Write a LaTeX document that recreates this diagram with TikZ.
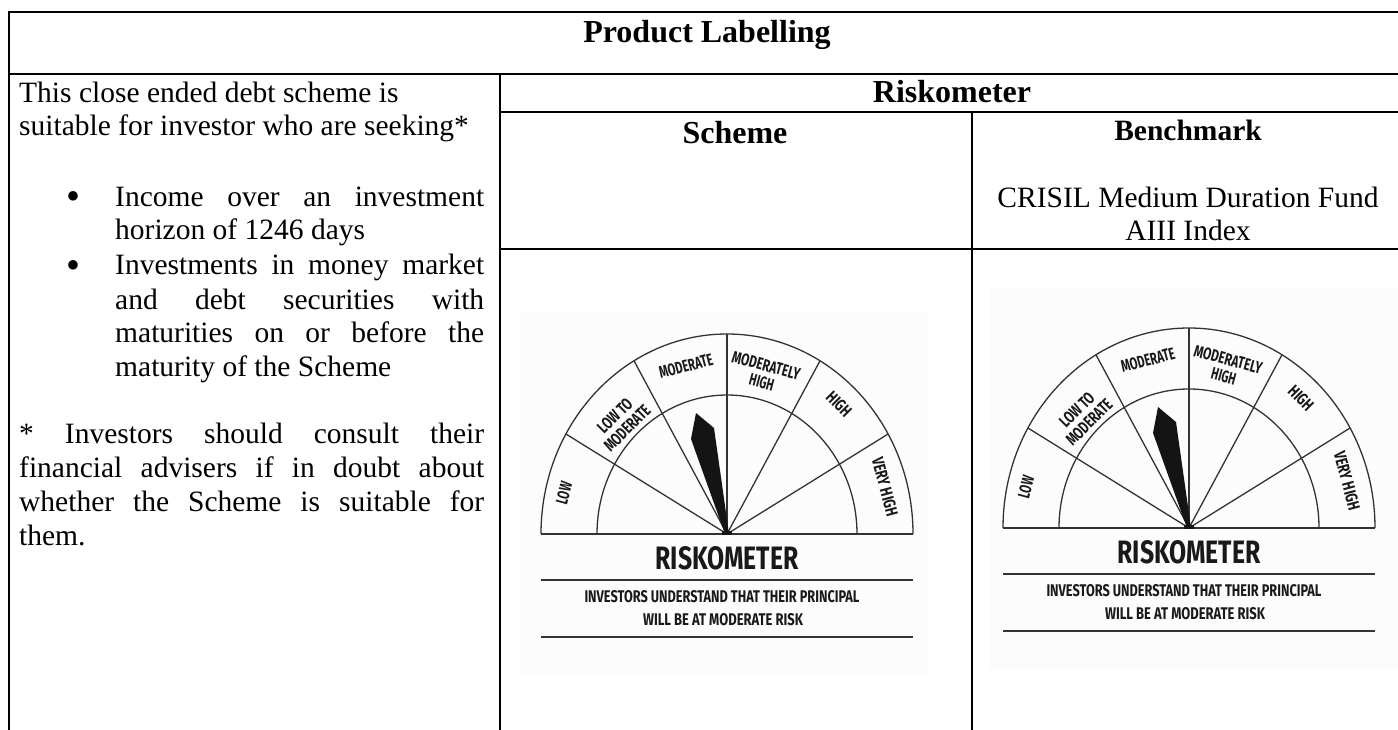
\documentclass[tikz,border=0pt]{standalone}
\usepackage{fontspec}
\usepackage{graphicx}
\setmainfont{Liberation Serif}
\newfontfamily\rkfont{Fira Sans}
\tikzset{
  rule/.style={line width=2.2pt, line cap=rect},
  hdr/.style={font=\fontsize{32}{36}\selectfont\bfseries, inner sep=0pt},
  hdrsmall/.style={font=\fontsize{29.5}{34}\selectfont\bfseries, inner sep=0pt},
  body/.style={font=\fontsize{29.5}{34}\selectfont, inner sep=0pt, anchor=base west},
  bul/.style={font=\fontsize{29.5}{34}\selectfont, inner sep=0pt, anchor=base},
  rkline/.style={draw=black!80, line width=1.3pt},
  rklab/.style={inner sep=0pt, font=\rkfont\bfseries, text=black!90, align=center},
  imgbg/.style={fill=black!1.2, draw=none}
}
\newcommand\drawriskometer[3]{%
  \begin{scope}[shift={(#1,#2)}, y=1pt]
    \draw[rkline] (-186,0) arc[start angle=180, end angle=0, x radius=186, y radius=200];
    \draw[rkline] (-130,0) arc[start angle=180, end angle=0, x radius=130, y radius=139];
    \draw[rkline] (-186,0) -- (186,0);
    \foreach \a in {30,60,90,120,150}
      \draw[rkline] (0,0) -- ({186*cos(\a)},{200*sin(\a)});
    \fill[black!92] (-2,0) -- (-36,95) -- (-31,121) -- (-13,106) -- (2,0) -- cycle;
    \fill[black!92] (-5,-1) rectangle (5,3);
    \node[rklab, rotate=75] (#3low) at (-163,41) {\resizebox{22pt}{12pt}{LOW}};
    \node[rklab, rotate=45] (#3ltm) at (-106,112) {\resizebox{42pt}{12pt}{LOW TO}\\[4pt]\resizebox{58pt}{12pt}{MODERATE}};
    \node[rklab, rotate=15] (#3mod) at (-41,168) {\resizebox{55pt}{12pt}{MODERATE}};
    \node[rklab, rotate=-15] (#3mh) at (37,160) {\resizebox{70pt}{12pt}{MODERATELY}\\[4pt]\resizebox{25pt}{12pt}{HIGH}};
    \node[rklab, rotate=-45] (#3high) at (112,130) {\resizebox{28pt}{12pt}{HIGH}};
    \node[rklab, rotate=-75] (#3vh) at (158,47) {\resizebox{60pt}{12pt}{VERY HIGH}};
    \node[rklab] (#3title) at (0,-24) {\resizebox{143pt}{23pt}{RISKOMETER}};
    \draw[rkline, line width=1.2pt] (-186,-46) -- (186,-46);
    \node[rklab] (#3inv) at (-5,-63) {\resizebox{275pt}{12pt}{INVESTORS UNDERSTAND THAT THEIR PRINCIPAL}};
    \node[rklab] (#3will) at (-4,-86) {\resizebox{160pt}{12pt}{WILL BE AT MODERATE RISK}};
    \draw[rkline, line width=1.2pt] (-186,-103) -- (186,-103);
  \end{scope}}
\begin{document}
\begin{tikzpicture}[x=1pt, y=-1pt]
  \useasboundingbox (0,0) rectangle (1398,730);
  % faint image backgrounds
  \fill[imgbg] (520,312) rectangle (927,675);
  \fill[imgbg] (990,289) rectangle (1398,670);
  % table rules
  \draw[rule] (9,12) -- (1398,12);
  \draw[rule] (9,74) -- (1398,74);
  \draw[rule] (500,112) -- (1398,112);
  \draw[rule] (500,249) -- (1398,249);
  \draw[rule] (9,12) -- (9,730);
  \draw[rule] (500,74) -- (500,730);
  \draw[rule] (972,112) -- (972,730);
  % headers
  \node[hdr, anchor=base] (title) at (707,43) {Product Labelling};
  \node[hdr, anchor=base] (risk) at (952,103) {Riskometer};
  \node[hdr, anchor=base] (scheme) at (735,144) {Scheme};
  \node[hdrsmall, anchor=base] (bench) at (1188,141) {Benchmark};
  \node[bul] (crisil) at (1188,208) {CRISIL Medium Duration Fund};
  \node[bul] (aiii) at (1188,241) {AIII Index};
  % left column text
  \node[body] (t1) at (19,103) {This close ended debt scheme is};
  \node[body] (t2) at (19,136) {suitable for investor who are seeking*};
  \node[bul] (b1) at (73,210) {\scalebox{1.35}{\textbullet}};
  \node[body] (i1) at (115,207) {\makebox[369pt][s]{Income over an investment}};
  \node[body] (i2) at (115,240) {horizon of 1246 days};
  \node[bul] (b2) at (73,278) {\scalebox{1.35}{\textbullet}};
  \node[body] (j1) at (115,275) {\makebox[369pt][s]{Investments in money market}};
  \node[body] (j2) at (115,309) {\makebox[369pt][s]{and debt securities with}};
  \node[body] (j3) at (115,342) {\makebox[369pt][s]{maturities on or before the}};
  \node[body] (j4) at (115,376) {maturity of the Scheme};
  \node[body] (n1) at (19,443) {\makebox[465pt][s]{* Investors should consult their}};
  \node[body] (n2) at (19,477) {\makebox[465pt][s]{financial advisers if in doubt about}};
  \node[body] (n3) at (19,511) {\makebox[465pt][s]{whether the Scheme is suitable for}};
  \node[body] (n4) at (19,545) {them.};
  % riskometers
  \drawriskometer{727}{534}{ls}
  \drawriskometer{1189}{528}{rs}
\end{tikzpicture}
\end{document}
